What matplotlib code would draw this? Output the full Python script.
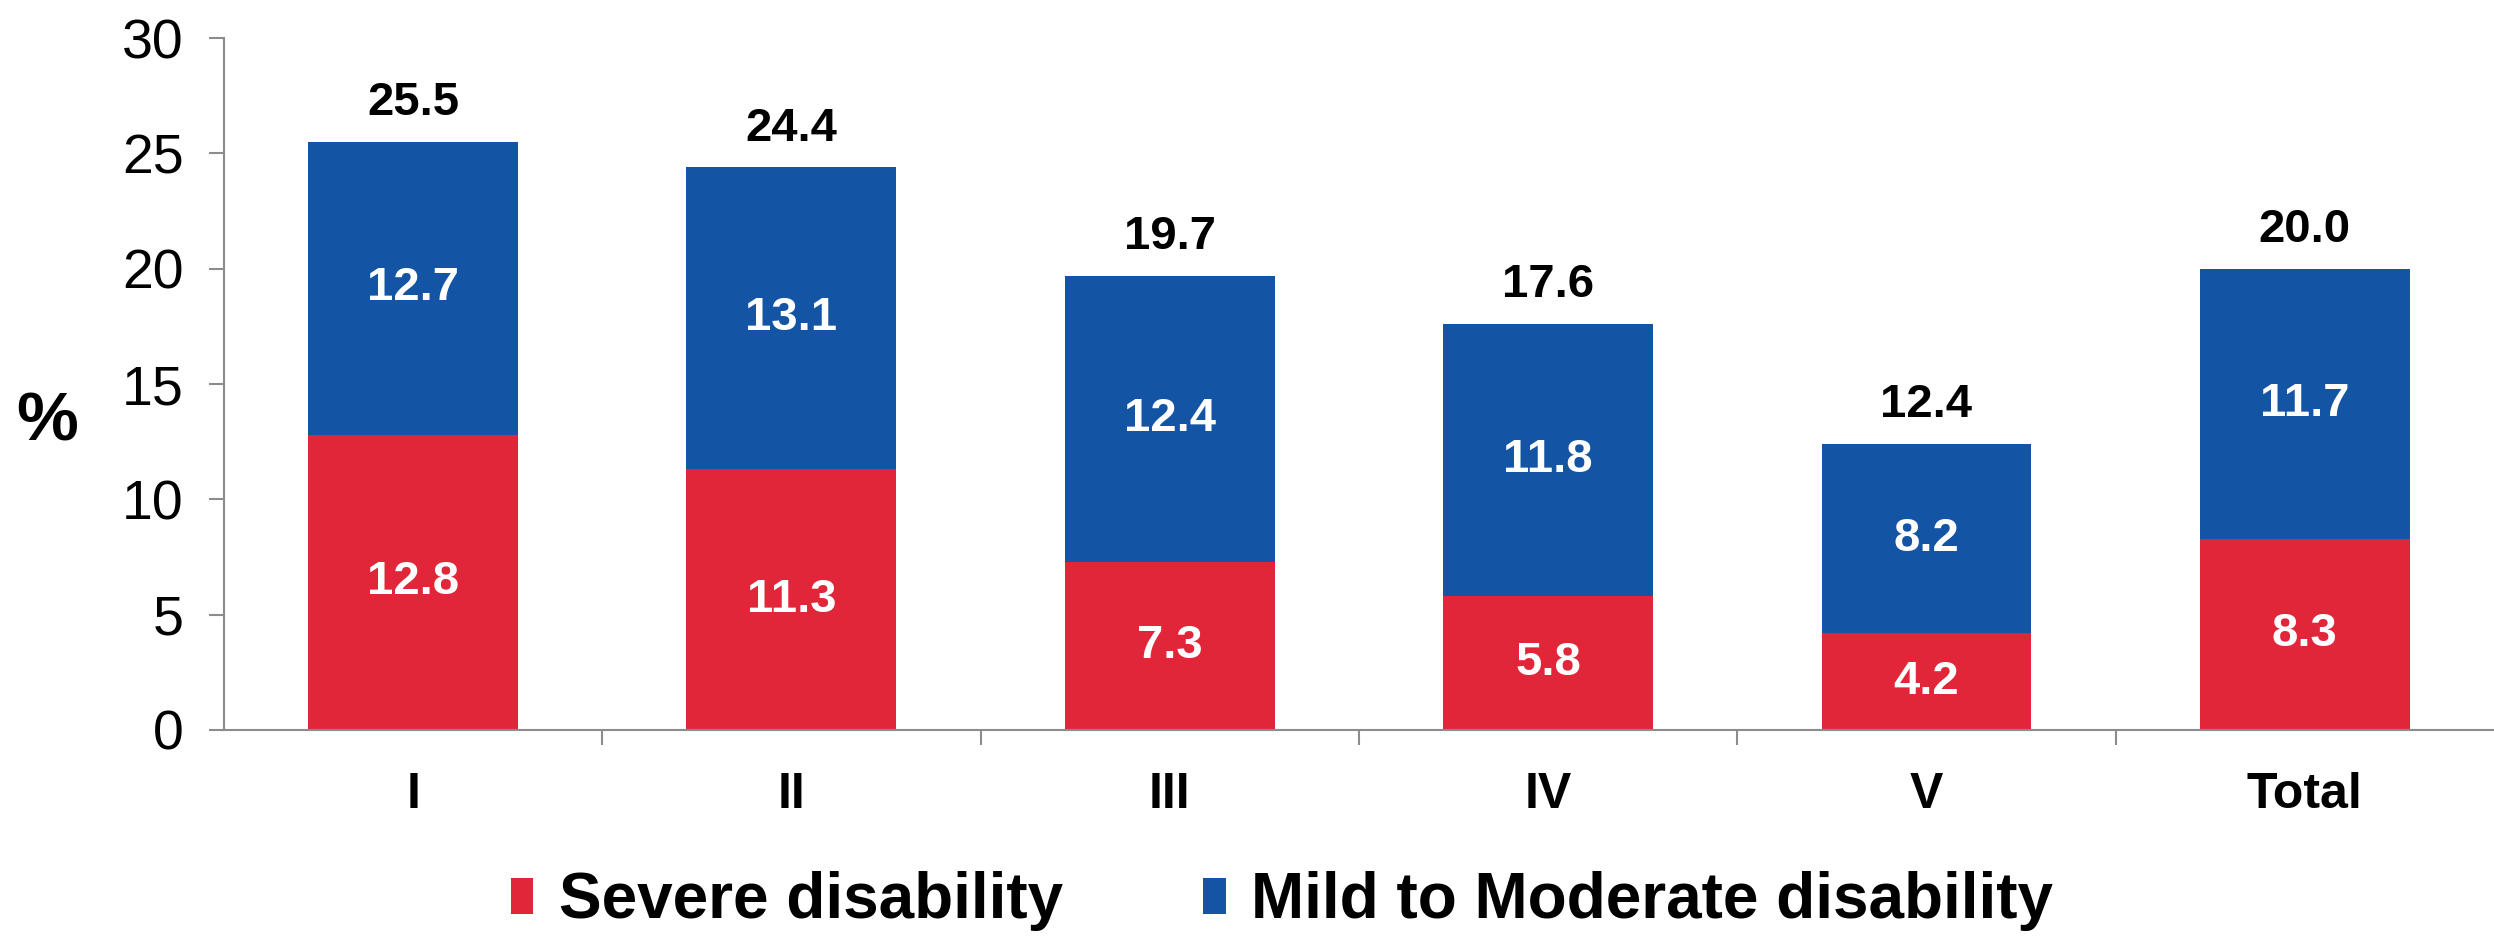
import matplotlib.pyplot as plt
import numpy as np

groups = ["I", "II", "III", "IV", "V", "Total"]
severe = [12.8, 11.3, 7.3, 5.8, 4.2, 8.3]
mild = [12.7, 13.1, 12.4, 11.8, 8.2, 11.7]
totals = [25.5, 24.4, 19.7, 17.6, 12.4, 20.0]

red = "#E1263A"
blue = "#1454A4"
grey = "#8c8c8c"

plt.rcParams['font.family'] = ['Liberation Sans', 'DejaVu Sans']

fig = plt.figure(figsize=(24.94, 9.39), dpi=100)
ax = fig.add_axes([0.0898, 0.2226, 0.9102, 0.7369])

x = np.arange(len(groups))
w = 0.555
b1 = ax.bar(x, severe, w, color=red, label="Severe disability")
b2 = ax.bar(x, mild, w, bottom=severe, color=blue, label="Mild to Moderate disability")

for i in range(len(groups)):
    ax.text(x[i], severe[i] / 2, f"{severe[i]:.1f}", ha="center", va="center",
            color="white", fontsize=34, fontweight="bold")
    ax.text(x[i], severe[i] + mild[i] / 2, f"{mild[i]:.1f}", ha="center", va="center",
            color="white", fontsize=34, fontweight="bold")
    ax.annotate(f"{totals[i]:.1f}", (x[i], totals[i]), xytext=(0, 12),
                textcoords="offset points", ha="center", va="bottom",
                fontsize=34, fontweight="bold", color="black")

ax.set_xlim(-0.5, len(groups) - 0.5)
ax.set_ylim(0, 30)
ax.set_yticks(range(0, 31, 5))
ax.tick_params(axis="y", labelsize=40, length=11, width=1.5, color=grey, pad=18)

ax.set_xticks(x)
ax.set_xticklabels(groups, fontsize=36, fontweight="bold")
ax.set_xticks(np.arange(0.5, len(groups) - 0.5), minor=True)
ax.tick_params(axis="x", which="major", length=0, pad=30)
ax.tick_params(axis="x", which="minor", length=11, width=1.5, color=grey)

for s in ["top", "right"]:
    ax.spines[s].set_visible(False)
for s in ["left", "bottom"]:
    ax.spines[s].set_color(grey)
    ax.spines[s].set_linewidth(1.5)

fig.text(0.019, 0.55, "%", fontsize=50, fontweight="bold", ha="center", va="center")

fig.legend(handles=[b1, b2], loc="center", bbox_to_anchor=(0.514, 0.04), ncol=2,
           frameon=False, prop={"size": 46, "weight": "bold"},
           handlelength=0.35, handleheight=0.5, handletextpad=0.4, columnspacing=2.2)

fig.savefig("out.png", dpi=100)
